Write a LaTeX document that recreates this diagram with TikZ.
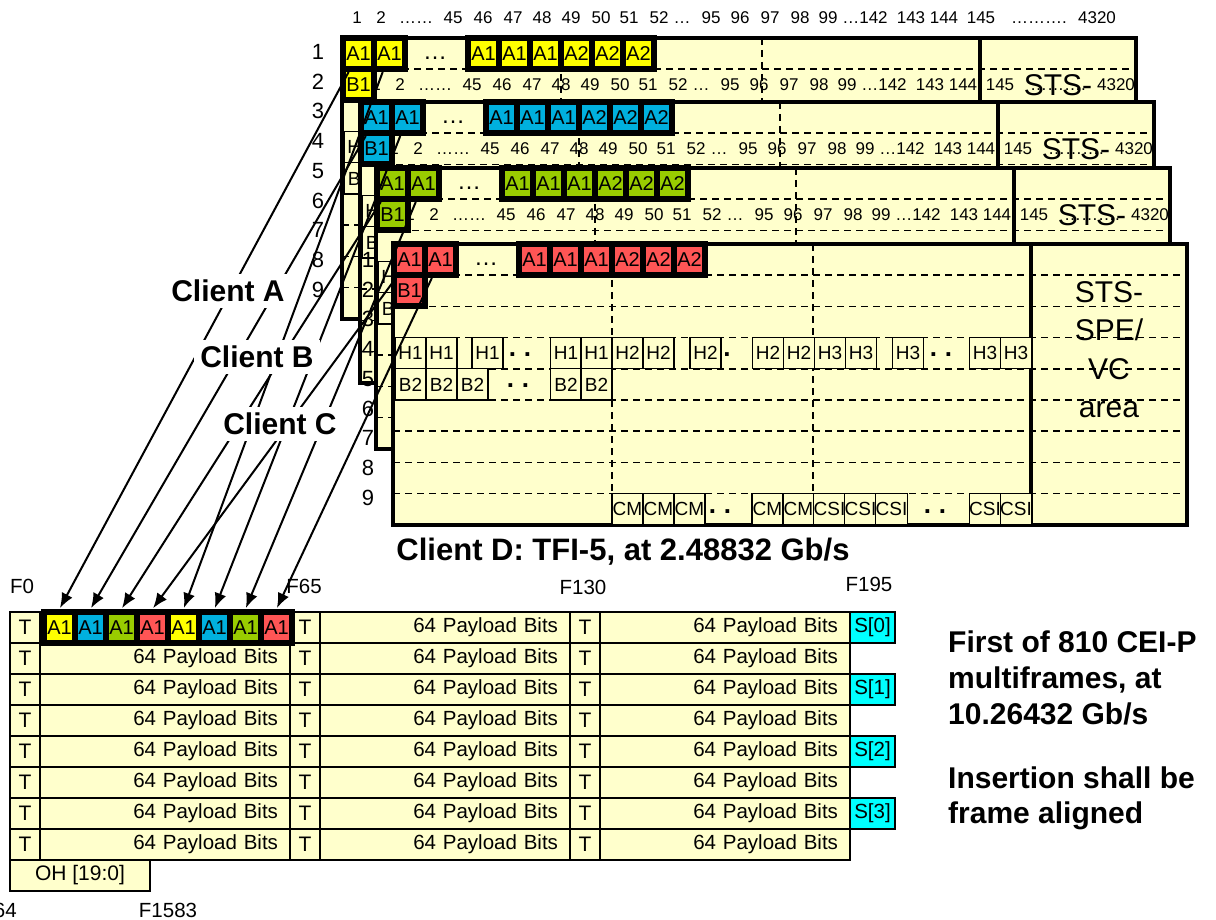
\documentclass[tikz,border=0pt]{standalone}
\usepackage{fontspec}
\setmainfont{Liberation Sans}
\usetikzlibrary{arrows.meta}

\definecolor{paleyel}{RGB}{255,255,204}
\definecolor{clientA}{RGB}{255,255,0}
\definecolor{clientB}{RGB}{0,176,222}
\definecolor{clientC}{RGB}{153,204,0}
\definecolor{clientD}{RGB}{255,85,85}
\definecolor{sbit}{RGB}{0,255,255}

\newcommand{\pxfont}[1]{\fontsize{#1}{#1}\selectfont}
\newcommand{\colnums}{34/1, 58/2, 93/……, 130/45, 160/46, 190/47, 219/48, 248/49, 278/50, 306/51, 336/52, 359/…, 388/95, 417/96, 447/97, 477/98, 505/99, 542/…142, 588/143, 621/144, 658/145, 716/………., 774/4320}

\begin{document}
\begin{tikzpicture}[x=1pt, y=-1pt,
  rowline/.style={line width=1.6pt, dash pattern=on 7pt off 5pt},
  frameline/.style={line width=3.5pt},
  acell/.style={draw=black, line width=6pt, minimum width=31pt, minimum height=31pt, inner sep=0pt, font=\pxfont{20}},
  ocell/.style={draw=black, line width=1.2pt, fill=paleyel, minimum width=31pt, minimum height=31.2pt, inner sep=0pt, font=\pxfont{19}},
  gap/.style={inner sep=0pt, font=\pxfont{26}\bfseries},
  colnum/.style={anchor=base, inner sep=0pt, font=\pxfont{17}},
  rownum/.style={inner sep=0pt, font=\pxfont{22}},
  ststext/.style={anchor=base, inner sep=0pt, font=\pxfont{30}},
  tcell/.style={draw=black, line width=2pt, fill=paleyel, minimum width=30pt, minimum height=31pt, inner sep=0pt, font=\pxfont{21}},
  pcell/.style={draw=black, line width=2pt, fill=paleyel, minimum height=31pt, text width=226pt, inner xsep=12pt, inner ysep=0pt, align=right, font=\pxfont{20.5}},
  scell/.style={draw=black, line width=1.5pt, fill=sbit, minimum width=45pt, minimum height=31pt, inner sep=0pt, font=\pxfont{20.5}},
  flabel/.style={inner sep=0pt, font=\pxfont{20.5}},
  client/.style={fill=white, inner sep=6pt, font=\pxfont{30}\bfseries},
  note/.style={anchor=base west, inner sep=0pt, font=\pxfont{30}\bfseries},
  feed/.style={line width=2pt, -{Latex[length=15pt, width=12pt]}, shorten >=1pt}]
\useasboundingbox (0,0) rectangle (1216,920);

% column numbers over the frames
\foreach \x/\t in \colnums \node[colnum] at (323+\x,24) {\t};

% the four stacked client frames
\foreach \fx/\fy/\fc/\fn [count=\k] in {342/38/clientA/fA, 360/102/clientB/fB, 376/168/clientC/fC, 393/244/clientD/fD} {
  \begin{scope}[shift={(\fx,\fy)}]
    \fill[paleyel] (0,0) rectangle (794,281);
    \foreach \r in {1,...,8} \draw[rowline] (0,31.2*\r) -- (794,31.2*\r);
    \draw[rowline] (219,0) -- (219,281);
    \draw[rowline] (420,0) -- (420,281);
    \ifnum\k<4
      \foreach \x/\t in \colnums \node[colnum] at (\x,52.5) {\t};
    \fi
    \draw[frameline] (638,0) -- (638,281);
    \draw[frameline] (0,0) rectangle (794,281);
    \ifnum\k=4
      \foreach \x/\t in {17.5/H1, 48.5/H1, 94.5/H1, 173/H1, 203.5/H1, 234.5/H2, 265.5/H2, 312.5/H2, 375/H2, 406/H2, 437/H3, 468/H3, 515/H3, 592/H3, 623/H3}
        \node[ocell] at (\x,109.2) {\t};
      \foreach \x in {17.5, 48.5, 79.5, 173, 203.5} \node[ocell] at (\x,140.4) {B2};
      \foreach \x/\t in {234.5/CM, 265.5/CM, 296.5/CM, 374.5/CM, 405.5/CM, 436.5/CSI, 467.5/CSI, 498.5/CSI, 592/CSI, 623/CSI}
        \node[ocell] at (\x,265.2) {\t};
      \node[gap] at (127,111) {.\hspace{8pt}.};
      \node[gap] at (334,111) {.};
      \node[gap] at (548,111) {.\hspace{8pt}.};
      \node[gap] at (125,142) {.\hspace{8pt}.};
      \node[gap] at (327,268) {.\hspace{8pt}.};
      \node[gap] at (542,268) {.\hspace{8pt}.};
      \foreach \t [count=\j from 0] in {STS-,SPE/,VC,area} \node[ststext] at (716,58+38.5*\j) {\t};
    \else
      \node[ocell] at (17.5,109.2) {H1};
      \node[ocell] at (17.5,140.4) {B2};
      \node[ststext] at (716,58) {STS-};
    \fi
    \node[acell, fill=\fc] (\fn-a1) at (16.5,15.5) {A1};
    \node[acell, fill=\fc] (\fn-a2) at (47.5,15.5) {A1};
    \node[acell, fill=\fc] (\fn-b1) at (16.5,46.5) {B1};
    \foreach \t [count=\j from 0] in {A1,A1,A1,A2,A2,A2}
      \node[acell, fill=\fc] (\fn-g\j) at (141.5+31*\j,15.5) {\t};
    \node[inner sep=0pt, font=\pxfont{24}] at (93,20) {…};
  \end{scope}
}

% row numbers
\foreach \k in {1,...,9} \node[rownum] (lA\k) at (318,52+29.7*\k-29.7) {\k};
\foreach \k in {1,...,9} \node[rownum] (lD\k) at (368,260+29.7*\k-29.7) {\k};

% CEI-P multiframe
\foreach \r in {1,...,8} {
  \node[tcell] (ta\r) at (25,596.5+31*\r) {T};
  \node[pcell] (pa\r) at (165,596.5+31*\r) {\ifnum\r>1 64 Payload Bits\fi};
  \node[tcell] (tb\r) at (305,596.5+31*\r) {T};
  \node[pcell] (pb\r) at (445,596.5+31*\r) {64 Payload Bits};
  \node[tcell] (tc\r) at (585,596.5+31*\r) {T};
  \node[pcell] (pc\r) at (725,596.5+31*\r) {64 Payload Bits};
}
\foreach \c [count=\i] in {clientA,clientB,clientC,clientD,clientA,clientB,clientC,clientD}
  \node[acell, fill=\c] (m\i) at (28.5+31*\i,627.5) {A1};
\foreach \r/\s in {1/0, 3/1, 5/2, 7/3} \node[scell] (s\s) at (872.5,596.5+31*\r) {S[\s]};
\node[tcell, minimum width=140pt] (oh) at (80,875.5) {OH [19:0]};

\node[flabel] (f0) at (22,586) {F0};
\node[flabel] (f65) at (304,586) {F65};
\node[flabel] (f130) at (583,587) {F130};
\node[flabel] (f195) at (869,584) {F195};
\node[flabel] (f1583) at (168,910) {F1583};
\node[flabel, anchor=east] (f64) at (17,910) {64};

% A1 bytes into the multiframe
\foreach \s/\d in {fA-a1/m1, fB-a1/m2, fC-a1/m3, fD-a1/m4, fA-a2/m5, fB-a2/m6, fC-a2/m7, fD-a2/m8}
  \draw[feed] (\s) -- (\d.north);

\node[client] (cA) at (228,291) {Client A};
\node[client] (cB) at (257,357) {Client B};
\node[client] (cC) at (280,424) {Client C};
\node[inner sep=0pt, font=\pxfont{31}\bfseries] (cD) at (623,552) {Client D: TFI-5, at 2.48832 Gb/s};

\foreach \y/\t in {652/{First of 810 CEI-P}, 688/{multiframes, at}, 724/{10.26432 Gb/s}, 788/{Insertion shall be}, 823/{frame aligned}}
  \node[note] at (948,\y) {\t};
\end{tikzpicture}
\end{document}
